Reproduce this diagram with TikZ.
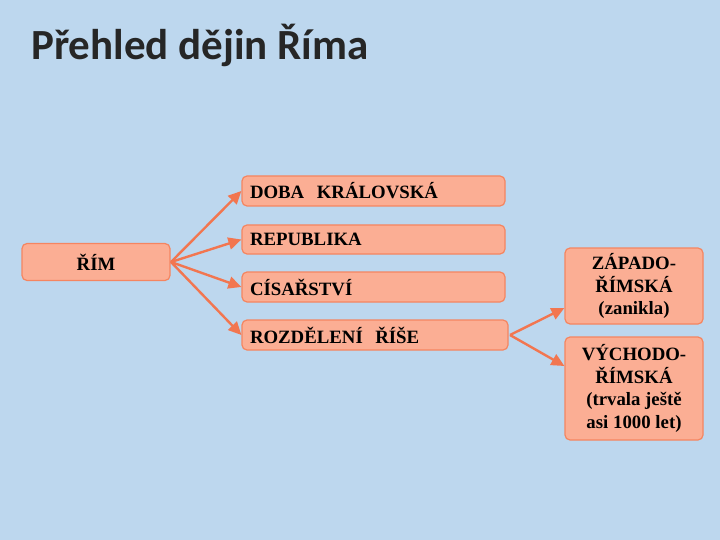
\documentclass[tikz,border=0pt]{standalone}
\usepackage{fontspec}
\setmainfont{Liberation Serif}
\newfontfamily\titlefont{Carlito}
\usetikzlibrary{arrows.meta}
\definecolor{bg}{HTML}{BDD7EE}
\definecolor{boxf}{HTML}{FBAE94}
\definecolor{boxd}{HTML}{F58560}
\definecolor{arr}{HTML}{F27650}
\begin{document}
\begin{tikzpicture}[x=1pt,y=-1pt,
  box/.style={draw=boxd,line width=1.2pt,fill=boxf,rounded corners=5pt,font=\bfseries\fontsize{18.8}{21}\selectfont},
  ar/.style={draw=arr,line width=2.4pt,-{Triangle[length=13pt,width=12pt]}}]
\fill[bg] (0,0) rectangle (720,540);
\useasboundingbox (0,0) rectangle (720,540);
\node[anchor=west,inner sep=0pt,font=\titlefont\bfseries\fontsize{43}{48}\selectfont,text=black!85] (title) at (31,45) {Přehled dějin Říma};
\node[box,minimum width=148pt,minimum height=37pt] (rim) at (96,262) {ŘÍM};
\node[box,minimum width=263pt,minimum height=30pt,text width=247pt,align=left] (k) at (373.5,191) {DOBA\ \ KRÁLOVSKÁ};
\node[box,minimum width=263pt,minimum height=29pt,text width=247pt,align=left] (r) at (373.5,239.5) {REPUBLIKA};
\node[box,minimum width=263pt,minimum height=30pt,text width=247pt,align=left] (c) at (373.5,287) {CÍSAŘSTVÍ};
\node[box,minimum width=266pt,minimum height=30pt,text width=250pt,align=left] (d) at (375,335) {ROZDĚLENÍ\ \ ŘÍŠE};
\node[box,minimum width=138pt,minimum height=76pt,align=center,font=\bfseries\fontsize{18.8}{22.5}\selectfont] (z) at (634,286) {ZÁPADO-\\ŘÍMSKÁ\\(zanikla)};
\node[box,minimum width=138pt,minimum height=103pt,align=center,font=\bfseries\fontsize{18.8}{22.5}\selectfont] (v) at (634,388.5) {VÝCHODO-\\ŘÍMSKÁ\\(trvala ještě\\asi 1000 let)};
\coordinate (s) at (171,262);
\draw[ar] (s) -- (k.west);
\draw[ar] (s) -- (r.west);
\draw[ar] (s) -- (c.west);
\draw[ar] (s) -- (d.west);
\coordinate (t) at (510,335);
\draw[ar] (t) -- (z.west |- 0,308);
\draw[ar] (t) -- (v.west |- 0,366);
\end{tikzpicture}
\end{document}
